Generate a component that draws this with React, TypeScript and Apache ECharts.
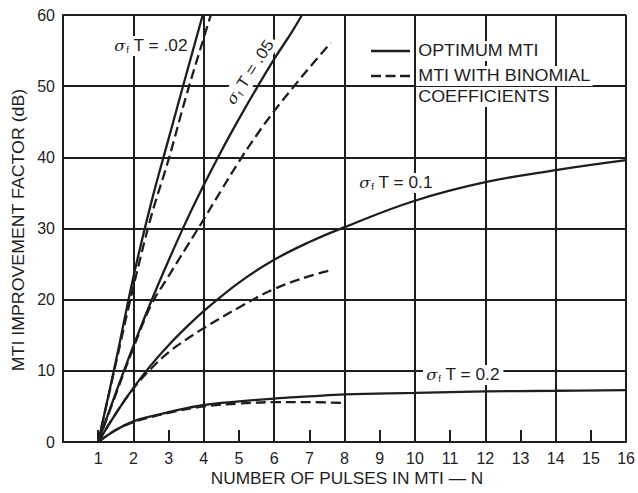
import React, { useEffect, useRef } from "react";
import * as echarts from "echarts";

// ---------- data ----------
const xTickLabels = ["1", "2", "3", "4", "5", "6", "7", "8", "9", "10", "11", "12", "13", "14", "15", "16"];
const yTickValues = [0, 10, 20, 30, 40, 50, 60];

// sigma_f T = .02
const nOpt02 = [1, 1.5, 2, 2.5, 3, 3.5, 3.97];
const dbOpt02 = [0, 11.3, 23.2, 33.5, 42.6, 51.6, 60];
const nBin02 = [1, 1.5, 2, 2.5, 3, 3.5, 4, 4.2];
const dbBin02 = [0, 11.0, 21.8, 31.6, 39.7, 48.6, 56.8, 60];

// sigma_f T = .05
const nOpt05 = [1, 1.5, 2, 2.5, 3, 3.5, 4, 4.5, 5, 5.5, 6, 6.5, 6.79];
const dbOpt05 = [0, 6.9, 13.5, 19.7, 25.5, 31.0, 36.1, 40.9, 45.4, 49.7, 53.8, 57.6, 60];
const nBin05 = [1, 1.5, 2, 2.5, 3, 3.5, 4, 4.5, 5, 5.5, 6, 6.5, 7, 7.61];
const dbBin05 = [0, 6.7, 13.2, 19.2, 23.3, 27.3, 31.3, 35.4, 39.4, 43.1, 46.5, 49.6, 52.6, 56.1];

// sigma_f T = 0.1
const nOpt1 = [1, 1.5, 2, 2.5, 3, 3.5, 4, 5, 6, 7, 8, 10, 12, 14, 16];
const dbOpt1 = [0, 4.0, 7.6, 10.8, 13.6, 16.1, 18.4, 22.4, 25.6, 28.1, 30.2, 33.9, 36.5, 38.2, 39.6];
const nBin1 = [1, 1.5, 2, 2.5, 3, 3.5, 4, 5, 6, 7, 7.57];
const dbBin1 = [0, 4.0, 7.5, 10.3, 12.6, 14.4, 16.0, 18.9, 21.5, 23.3, 24.1];

// sigma_f T = 0.2
const nOpt2 = [1, 1.5, 2, 2.5, 3, 4, 5, 6, 7, 8, 10, 12, 14, 16];
const dbOpt2 = [0, 1.7, 2.9, 3.6, 4.2, 5.2, 5.7, 6.1, 6.4, 6.7, 6.9, 7.1, 7.2, 7.3];
const nBin2 = [1, 1.5, 2, 2.5, 3, 4, 5, 6, 7, 7.9];
const dbBin2 = [0, 1.7, 2.8, 3.5, 4.1, 5.0, 5.4, 5.6, 5.6, 5.5];

const legendLabels = ["OPTIMUM MTI", "MTI WITH BINOMIAL", "COEFFICIENTS"];
const xTitle = "NUMBER OF PULSES IN MTI \u2014 N";
const yTitle = "MTI IMPROVEMENT FACTOR (dB)";

// ---------- styling ----------
const INK = "#1e1e1e";
const FONT = "'Liberation Sans', Arial, Helvetica, sans-serif";

const pairs = (xs: number[], ys: number[]) => xs.map((x, i) => [x, ys[i]]);

const lineSeries = (name: string, xs: number[], ys: number[], dashed: boolean) => ({
  name,
  type: "line",
  data: pairs(xs, ys),
  smooth: 0.4,
  symbol: "none",
  clip: true,
  z: 3,
  lineStyle: { color: INK, width: 2.3, type: dashed ? [10, 5] : "solid" },
});

const sigmaRich = {
  s: { fontSize: 15, fontStyle: "italic", fontFamily: "'DejaVu Serif', serif", fill: INK },
  f: { fontSize: 9, fontFamily: FONT, padding: [9, 0, 0, 1], fill: INK },
};

const sigmaLabel = (value: string, x: number, y: number, rotation = 0, align = "left") => ({
  type: "text",
  x,
  y,
  rotation,
  scaleX: 1.08,
  z: 1,
  style: {
    text: `{s|\u03c3}{f|f} T = ${value}`,
    rich: sigmaRich,
    fontSize: 16,
    fontFamily: FONT,
    fill: INK,
    align,
    verticalAlign: "middle",
    backgroundColor: "#ffffff",
    padding: [1, 3],
  },
});

export default function App() {
  const ref = useRef<HTMLDivElement>(null);

  useEffect(() => {
    if (!ref.current) return;
    const chart = echarts.init(ref.current, null, { renderer: "svg" });
    const axisLineStyle = { color: INK, width: 2 };

    const option = {
      animation: false,
      backgroundColor: "#ffffff",
      grid: { left: 63, right: 7, top: 15, bottom: 51, containLabel: false },
      xAxis: [
        {
          type: "value",
          min: 0,
          max: 16,
          interval: 1,
          position: "bottom",
          axisLine: { show: true, lineStyle: axisLineStyle },
          axisTick: { show: true, inside: true, length: 12, lineStyle: { color: INK, width: 2 } },
          axisLabel: {
            show: true,
            fontSize: 16,
            color: INK,
            fontFamily: FONT,
            margin: 8,
            showMinLabel: true,
            showMaxLabel: true,
            hideOverlap: false,
            formatter: (v: number) => (v >= 1 ? xTickLabels[Math.round(v) - 1] : ""),
          },
          splitLine: { show: false },
        },
        {
          type: "value",
          min: 0,
          max: 16,
          interval: 2,
          position: "top",
          axisLine: { show: false },
          axisTick: { show: false },
          axisLabel: { show: false },
          splitLine: { show: true, lineStyle: axisLineStyle },
        },
      ],
      yAxis: {
        type: "value",
        min: yTickValues[0],
        max: yTickValues[yTickValues.length - 1],
        interval: 10,
        axisLine: { show: true, lineStyle: axisLineStyle },
        axisTick: { show: false },
        axisLabel: { fontSize: 16, color: INK, fontFamily: FONT, margin: 8 },
        splitLine: { show: true, lineStyle: axisLineStyle },
      },
      series: [
        lineSeries("opt02", nOpt02, dbOpt02, false),
        lineSeries("bin02", nBin02, dbBin02, true),
        lineSeries("opt05", nOpt05, dbOpt05, false),
        lineSeries("bin05", nBin05, dbBin05, true),
        lineSeries("opt1", nOpt1, dbOpt1, false),
        lineSeries("bin1", nBin1, dbBin1, true),
        lineSeries("opt2", nOpt2, dbOpt2, false),
        lineSeries("bin2", nBin2, dbBin2, true),
      ],
      graphic: [
        sigmaLabel(".02", 111, 46),
        sigmaLabel(".05", 250, 72, (57 * Math.PI) / 180, "center"),
        sigmaLabel("0.1", 356, 183),
        sigmaLabel("0.2", 423, 375),
        // legend samples
        { type: "line", z: 1, shape: { x1: 371, y1: 51, x2: 410, y2: 51 }, style: { stroke: INK, lineWidth: 2.3 } },
        {
          type: "line",
          z: 1,
          shape: { x1: 371, y1: 76, x2: 410, y2: 76 },
          style: { stroke: INK, lineWidth: 2.3, lineDash: [10, 4.5] },
        },
        ...legendLabels.map((t, i) => ({
          type: "text",
          x: 416,
          y: [51, 76, 97][i],
          scaleX: 1.12,
          z: 1,
          style: {
            text: t,
            fontSize: 16,
            fontFamily: FONT,
            fill: INK,
            align: "left",
            verticalAlign: "middle",
            backgroundColor: "#ffffff",
            padding: [2, 2],
          },
        })),
        {
          type: "text",
          x: 347,
          y: 479,
          scaleX: 1.08,
          z: 1,
          style: { text: xTitle, fontSize: 16, fontFamily: FONT, fill: INK, align: "center", verticalAlign: "middle" },
        },
        {
          type: "text",
          x: 19,
          y: 230,
          rotation: Math.PI / 2,
          scaleX: 1.11,
          z: 1,
          style: { text: yTitle, fontSize: 16, fontFamily: FONT, fill: INK, align: "center", verticalAlign: "middle" },
        },
      ],
    };

    chart.setOption(option as any);
    return () => chart.dispose();
  }, []);

  return <div ref={ref} style={{ width: 638, height: 493, position: "absolute", left: 0, top: 0 }} />;
}
